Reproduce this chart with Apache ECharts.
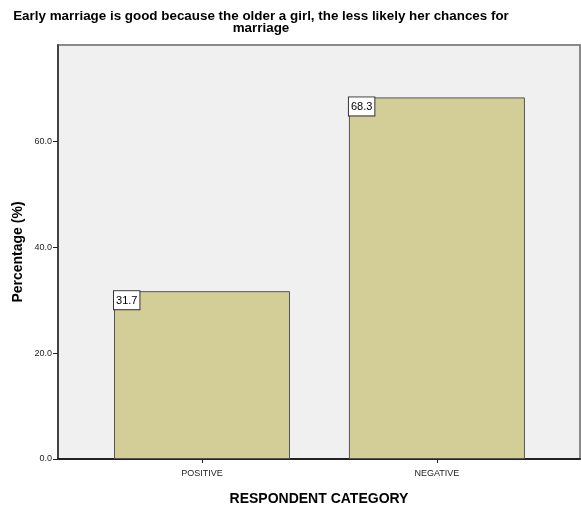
<!DOCTYPE html>
<html>
<head>
<meta charset="utf-8">
<script src="https://cdn.jsdelivr.net/npm/echarts@6/dist/echarts.min.js"></script>
<style>
  html, body { margin: 0; padding: 0; background: #ffffff; }
  #chart { width: 581px; height: 509px; }
</style>
</head>
<body>
<div id="chart"></div>
<script>
// Response categories and their share of respondents (%)
const categories = ['POSITIVE', 'NEGATIVE'];
const percentages = [31.7, 68.3];
const yTicks = [0, 20, 40, 60];

const titleText = 'Early marriage is good because the older a girl, the less likely her chances for\nmarriage';

// bars sit at category positions 0 and 1 on a numeric x scale
const barData = categories.map((c, i) => [i, percentages[i]]);
const catPositions = categories.map((c, i) => i);

const chart = echarts.init(document.getElementById('chart'), null, { renderer: 'canvas' });

chart.setOption({
  animation: false,
  backgroundColor: '#ffffff',
  textStyle: { fontFamily: 'Liberation Sans, Arial, sans-serif' },
  title: {
    text: titleText,
    left: 256,
    top: 5,
    textAlign: 'center',
    textStyle: {
      fontSize: 13.4,
      fontWeight: 'bold',
      color: '#000000',
      lineHeight: 12,
      fontFamily: 'Liberation Sans, Arial, sans-serif'
    }
  },
  grid: {
    left: 58,
    right: 1,
    top: 45,
    bottom: 50,
    containLabel: false,
    outerBoundsMode: 'none',
    show: true,
    backgroundColor: '#f0f0f0',
    borderColor: '#8a8a8a',
    borderWidth: 2
  },
  xAxis: {
    type: 'value',
    min: -0.613,
    max: 1.609,
    name: 'RESPONDENT CATEGORY',
    nameLocation: 'middle',
    nameGap: 33,
    nameTextStyle: { fontSize: 14, fontWeight: 'bold', color: '#000000' },
    axisLine: { show: true, onZero: false, lineStyle: { color: '#222222', width: 2 } },
    axisTick: {
      show: true,
      customValues: catPositions,
      length: 4,
      lineStyle: { color: '#222222', width: 1 }
    },
    axisLabel: {
      show: true,
      customValues: catPositions,
      fontSize: 9,
      color: '#222222',
      margin: 10,
      formatter: v => categories[Math.round(v)] || ''
    },
    splitLine: { show: false }
  },
  yAxis: {
    type: 'value',
    min: 0,
    max: 78.2,
    interval: 20,
    name: 'Percentage (%)',
    nameLocation: 'middle',
    nameGap: 33,
    nameMoveOverlap: false,
    nameTextStyle: { fontSize: 14, fontWeight: 'bold', color: '#000000' },
    axisLine: { show: true, onZero: false, lineStyle: { color: '#444444', width: 2 } },
    axisTick: {
      show: true,
      customValues: yTicks,
      length: 5,
      lineStyle: { color: '#222222', width: 1 }
    },
    axisLabel: {
      customValues: yTicks,
      fontSize: 9,
      color: '#222222',
      margin: 6,
      formatter: v => v.toFixed(1)
    },
    splitLine: { show: false }
  },
  series: [{
    type: 'bar',
    data: barData,
    barWidth: 176,
    itemStyle: {
      color: '#d3ce97',
      borderColor: '#555555',
      borderWidth: 1
    },
    label: {
      show: true,
      position: 'insideTopLeft',
      distance: 0,
      formatter: p => p.value[1].toFixed(1),
      fontSize: 11,
      color: '#000000',
      backgroundColor: '#ffffff',
      borderColor: '#333333',
      borderWidth: 1,
      padding: [4, 2, 3, 2]
    }
  }]
});
</script>
</body>
</html>
